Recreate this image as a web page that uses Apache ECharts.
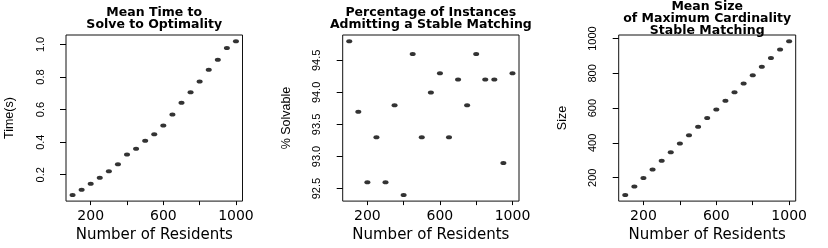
<!DOCTYPE html>
<html>
<head>
<meta charset="utf-8">
<script src="https://cdn.jsdelivr.net/npm/echarts@6/dist/echarts.min.js"></script>
<style>
html,body{margin:0;padding:0;background:#fff;}
#c{width:828px;height:248px;}
</style>
</head>
<body>
<div id="c"></div>
<script>
// ---- data ----
const residents = [100,150,200,250,300,350,400,450,500,550,600,650,700,750,800,850,900,950,1000];
const meanTime = [0.076,0.108,0.145,0.182,0.222,0.265,0.324,0.359,0.408,0.448,0.503,0.570,0.642,0.707,0.772,0.845,0.906,0.978,1.020];
const pctSolvable = [94.8,93.7,92.6,93.3,92.6,93.8,92.4,94.6,93.3,94.0,94.3,93.3,94.2,93.8,94.6,94.2,94.2,92.9,94.3];
const meanSize = [101,149,198,247,297,346,396,444,493,543,592,642,691,741,789,838,888,937,985];

const xTicks = [200,400,600,800,1000];
const xTickLabels = [200,600,1000];
const timeTicks = [0.2,0.4,0.6,0.8,1.0];
const pctTicks = [92.5,93.0,93.5,94.0,94.5];
const sizeTicks = [200,400,600,800,1000];

const titles = ['Mean Time to\nSolve to Optimality',
                'Percentage of Instances\nAdmitting a Stable Matching',
                'Mean Size\nof Maximum Cardinality\nStable Matching'];
const yNames = ['Time(s)','% Solvable','Size'];
const xName = 'Number of Residents';

// ---- layout ----
const gridLefts = [66, 342.7, 618.7];
const gridWidths = [176.5, 176.3, 177];
const gridTop = 35, gridHeight = 167.7;
const titleTops = [7, 7, 1];

const ext = v => (v.max - v.min) * 0.04;
const rMin = v => v.min - ext(v);
const rMax = v => v.max + ext(v);

const series = [meanTime, pctSolvable, meanSize];
const yTicks = [timeTicks, pctTicks, sizeTicks];
const yFmt = [v => v.toFixed(1), v => v.toFixed(1), v => String(Math.round(v))];

const grids = [], xAxes = [], yAxes = [], ser = [], graphics = [];
for (let i = 0; i < 3; i++) {
  grids.push({left: gridLefts[i], top: gridTop, width: gridWidths[i], height: gridHeight,
    show: true, borderColor: '#111', borderWidth: 1, backgroundColor: 'transparent', containLabel: false});
  xAxes.push({type: 'value', gridIndex: i, min: rMin, max: rMax,
    axisLine: {show: false}, splitLine: {show: false},
    axisTick: {show: true, length: 4, customValues: xTicks, lineStyle: {color: '#000', width: 1}},
    axisLabel: {customValues: xTickLabels, margin: 8, color: '#000', fontFamily: 'DejaVu Sans', fontSize: 14,
      formatter: v => String(Math.round(v))},
    name: xName, nameLocation: 'middle', nameGap: 25,
    nameTextStyle: {color: '#000', fontFamily: 'DejaVu Sans', fontSize: 15}});
  yAxes.push({type: 'value', gridIndex: i, min: rMin, max: rMax,
    axisLine: {show: false}, splitLine: {show: false},
    axisTick: {show: true, length: 6, customValues: yTicks[i], lineStyle: {color: '#000', width: 1}},
    axisLabel: {customValues: yTicks[i], rotate: 90, margin: 20, color: '#000',
      fontFamily: 'Liberation Sans', fontSize: 11, formatter: yFmt[i]},
    name: yNames[i], nameLocation: 'middle', nameGap: 50, nameRotate: 90,
    nameTextStyle: {color: '#000', fontFamily: 'Liberation Sans', fontSize: 12.5}});
  ser.push({type: 'scatter', xAxisIndex: i, yAxisIndex: i,
    data: residents.map((x, j) => [x, series[i][j]]),
    symbol: 'circle', symbolSize: [6, 4], itemStyle: {color: '#000'}, silent: true});
  graphics.push({type: 'text', x: gridLefts[i] + gridWidths[i] / 2, y: titleTops[i],
    style: {text: titles[i], fill: '#000', fontFamily: 'DejaVu Sans', fontWeight: 'bold', fontSize: 12.5,
      lineHeight: 11.8, align: 'center', textAlign: 'center', verticalAlign: 'top', textVerticalAlign: 'top'}});
}

const chart = echarts.init(document.getElementById('c'), null, {renderer: 'canvas'});
chart.setOption({
  animation: false,
  backgroundColor: '#fff',
  grid: grids, xAxis: xAxes, yAxis: yAxes, series: ser, graphic: graphics
});
</script>
</body>
</html>
